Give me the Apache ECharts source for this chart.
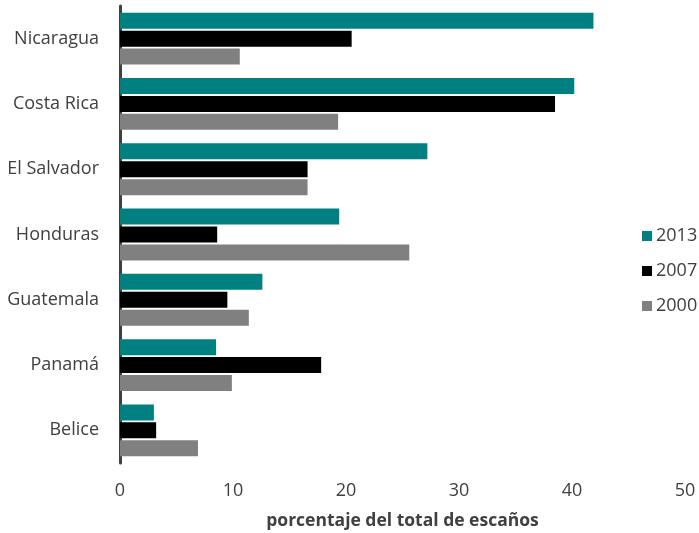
<!DOCTYPE html>
<html>
<head>
<meta charset="utf-8">
<script src="https://cdn.jsdelivr.net/npm/echarts@6/dist/echarts.min.js"></script>
<style>html,body{margin:0;padding:0;background:#fff}#c{width:699px;height:533px}</style>
</head>
<body>
<div id="c"></div>
<script>
const categories = ['Nicaragua', 'Costa Rica', 'El Salvador', 'Honduras', 'Guatemala', 'Panamá', 'Belice'];
const seriesNames = ['2013', '2007', '2000'];
const values2013 = [41.9, 40.2, 27.2, 19.4, 12.6, 8.5, 3.0];
const values2007 = [20.5, 38.5, 16.6, 8.6, 9.5, 17.8, 3.2];
const values2000 = [10.6, 19.3, 16.6, 25.6, 11.4, 9.9, 6.9];
const xTicks = [0, 10, 20, 30, 40, 50];
const colors = ['#008080', '#000000', '#808080'];
const font = '"Open Sans", "Liberation Sans", sans-serif';
const allValues = [values2013, values2007, values2000];

const chart = echarts.init(document.getElementById('c'), null, {renderer: 'canvas'});
chart.setOption({
  animation: false,
  textStyle: {fontFamily: font},
  grid: {left: 120, right: 14, top: 6, bottom: 70, containLabel: false, outerBoundsMode: 'none'},
  legend: {
    orient: 'vertical', left: 637, top: 222,
    itemWidth: 10, itemHeight: 10, itemGap: 17,
    icon: 'rect',
    textStyle: {fontSize: 18, color: '#404040', fontFamily: font, padding: [0, 0, 0, -1]},
    data: seriesNames
  },
  xAxis: {
    type: 'value', min: xTicks[0], max: xTicks[xTicks.length - 1], interval: 10,
    axisLine: {show: false}, axisTick: {show: false}, splitLine: {show: false},
    axisLabel: {fontSize: 18, color: '#404040', margin: 19, fontFamily: font},
    name: 'porcentaje del total de escaños', nameLocation: 'middle', nameGap: 49,
    nameTextStyle: {fontSize: 17.5, fontWeight: 'bold', color: '#404040', fontFamily: font}
  },
  yAxis: {
    type: 'category', data: categories, inverse: true,
    axisLine: {show: true, lineStyle: {color: '#404040', width: 3}},
    axisTick: {show: false},
    axisLabel: {fontSize: 18, color: '#404040', margin: 21, fontFamily: font}
  },
  series: seriesNames.map((n, i) => ({
    name: n, type: 'bar', data: allValues[i], barWidth: 16, barGap: '12%',
    itemStyle: {color: colors[i]}
  }))
});
</script>
</body>
</html>
